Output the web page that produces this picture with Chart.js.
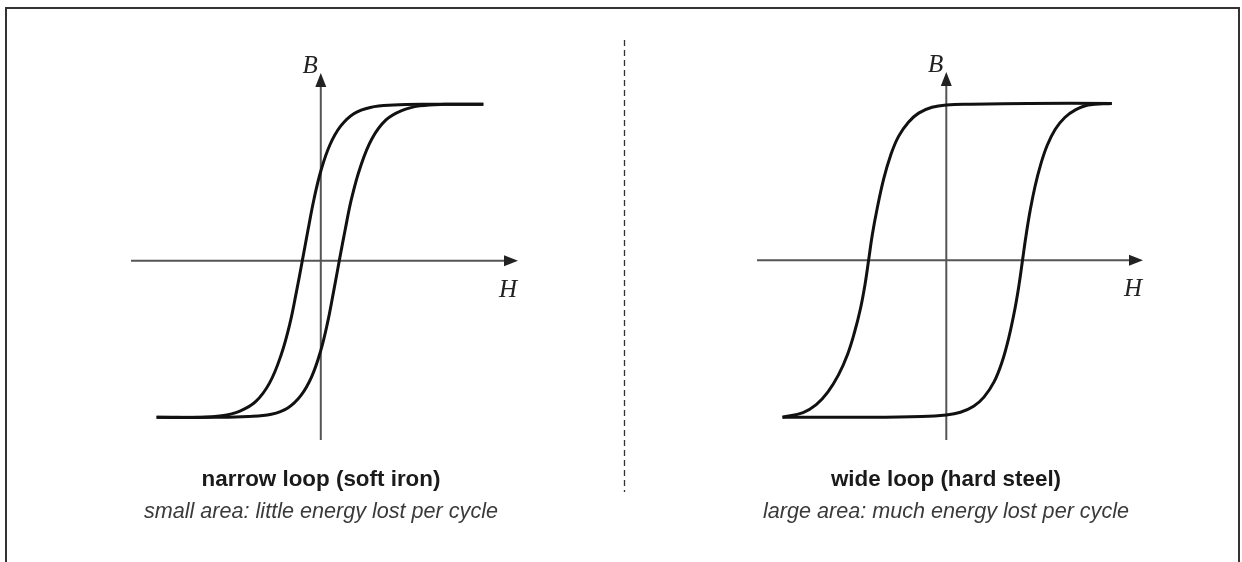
<!DOCTYPE html>
<html>
<head>
<meta charset="utf-8">
<script src="https://cdn.jsdelivr.net/npm/chart.js@4.4.1/dist/chart.umd.min.js"></script>
<style>
  body { margin: 0; background: #fff; width: 1242px; height: 562px; overflow: hidden; position: relative; }
  #frame { position: absolute; left: 5px; top: 7px; width: 1231px; height: 600px; border: 2px solid #333; }
  canvas { position: absolute; top: 0; }
  #softChart { left: 0; }
  #hardChart { left: 624px; }
  .cap { position: absolute; width: 520px; text-align: center; font-family: "Liberation Sans", Arial, sans-serif; line-height: 21px; }
  .cap b { display: block; font-size: 22.4px; color: #1a1a1a; }
  .cap i { display: block; font-size: 21.6px; color: #3a3a3a; margin-top: 11px; }
  #sep { position: absolute; left: 623px; top: 40px; }
</style>
</head>
<body>
<div id="frame"></div>
<canvas id="softChart" width="624" height="562"></canvas>
<canvas id="hardChart" width="618" height="562"></canvas>
<svg id="sep" width="3" height="455"><line x1="1.5" y1="0" x2="1.5" y2="452" stroke="#333" stroke-width="1.3" stroke-dasharray="6 4"/></svg>
<div class="cap" style="left:61px; top:468px;"><b>narrow loop (soft iron)</b><i>small area: little energy lost per cycle</i></div>
<div class="cap" style="left:686px; top:468px;"><b>wide loop (hard steel)</b><i>large area: much energy lost per cycle</i></div>

<script>
// soft iron: descending branch (from +H saturation) and ascending branch
const softH_down = [9.85, 6.5, 4.4, 3.0, 2.0, 1.2, 0.55, 0.02, -0.4, -0.77, -1.12, -1.48, -1.87, -2.4, -3.1, -3.95, -4.9, -6.0, -7.5, -9.95];
const softB_down = [1.0, 1.0, 0.995, 0.98, 0.94, 0.86, 0.74, 0.58, 0.4, 0.2, 0, -0.2, -0.4, -0.6, -0.78, -0.9, -0.96, -0.99, -1.0, -1.0];
const softH_up = [-9.95, -6.5, -4.4, -3.0, -2.0, -1.2, -0.55, -0.02, 0.4, 0.77, 1.12, 1.48, 1.87, 2.4, 3.1, 3.95, 4.9, 6.0, 7.5, 9.85];
const softB_up = [-1.0, -1.0, -0.995, -0.98, -0.94, -0.86, -0.74, -0.58, -0.4, -0.2, 0, 0.2, 0.4, 0.6, 0.78, 0.9, 0.96, 0.99, 1.0, 1.0];

// hard steel
const hardH_down = [10.05, 5.0, 1.5, 0, -0.87, -1.68, -2.3, -2.9, -3.38, -3.8, -4.2, -4.5, -4.72, -4.94, -5.22, -5.58, -6.0, -6.55, -7.2, -7.9, -8.7, -9.95];
const hardB_down = [1.0, 1.0, 0.995, 0.99, 0.975, 0.938, 0.88, 0.79, 0.67, 0.52, 0.33, 0.16, 0, -0.155, -0.31, -0.46, -0.6, -0.73, -0.84, -0.92, -0.97, -1.0];
const hardH_up = [-9.95, -5.0, -1.5, 0, 0.86, 1.66, 2.3, 2.9, 3.38, 3.78, 4.15, 4.42, 4.63, 4.84, 5.1, 5.4, 5.72, 6.12, 6.62, 7.2, 7.82, 8.62, 10.05];
const hardB_up = [-1.0, -1.0, -0.995, -0.985, -0.968, -0.93, -0.87, -0.775, -0.65, -0.5, -0.32, -0.155, 0, 0.155, 0.32, 0.475, 0.605, 0.73, 0.835, 0.91, 0.957, 0.99, 1.0];

// axis extents (the arrows end at max)
const hRange = [-11.5, 11.95];
const bRange = [-1.145, 1.2];

const toPoints = (hs, bs) => hs.map((h, i) => ({ x: h, y: bs[i] }));

// draws the H and B axes through the origin with arrow heads
const bhAxes = {
  id: 'bhAxes',
  beforeDatasetsDraw(chart) {
    const { ctx, chartArea: a, scales: { x, y } } = chart;
    const x0 = x.getPixelForValue(0);
    const y0 = y.getPixelForValue(0);
    ctx.save();
    ctx.strokeStyle = '#555';
    ctx.lineWidth = 2;
    ctx.beginPath();
    ctx.moveTo(a.left, y0); ctx.lineTo(a.right - 12, y0);
    ctx.moveTo(x0, a.bottom); ctx.lineTo(x0, a.top + 12);
    ctx.stroke();
    ctx.fillStyle = '#222';
    ctx.beginPath();
    ctx.moveTo(a.right, y0); ctx.lineTo(a.right - 14, y0 - 5.5); ctx.lineTo(a.right - 14, y0 + 5.5);
    ctx.fill();
    ctx.beginPath();
    ctx.moveTo(x0, a.top); ctx.lineTo(x0 - 5.5, a.top + 14); ctx.lineTo(x0 + 5.5, a.top + 14);
    ctx.fill();
    ctx.font = 'italic 25px "Liberation Serif"';
    ctx.textAlign = 'right';
    ctx.textBaseline = 'alphabetic';
    ctx.fillText('B', x0 - 3, a.top);
    ctx.fillText('H', a.right - 1, y0 + 36);
    ctx.restore();
  }
};

function loopChart(id, down, up, padding) {
  const line = { showLine: true, pointRadius: 0, borderColor: '#111', borderWidth: 3, tension: 0.4, fill: false };
  return new Chart(document.getElementById(id), {
    type: 'scatter',
    data: {
      datasets: [
        { label: 'descending', data: down, ...line },
        { label: 'ascending', data: up, ...line }
      ]
    },
    options: {
      responsive: false,
      animation: false,
      layout: { padding: padding },
      plugins: { legend: { display: false }, tooltip: { enabled: false } },
      scales: {
        x: { type: 'linear', min: hRange[0], max: hRange[1], display: false },
        y: { type: 'linear', min: bRange[0], max: bRange[1], display: false }
      }
    },
    plugins: [bhAxes]
  });
}

loopChart('softChart', toPoints(softH_down, softB_down), toPoints(softH_up, softB_up),
  { left: 131, right: 106, top: 73, bottom: 122 });
loopChart('hardChart', toPoints(hardH_down, hardB_down), toPoints(hardH_up, hardB_up),
  { left: 133, right: 99, top: 72, bottom: 122 });
</script>
</body>
</html>
